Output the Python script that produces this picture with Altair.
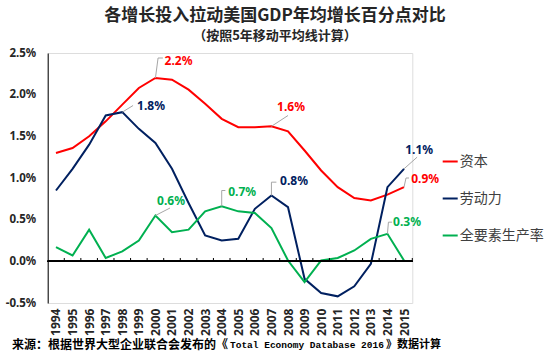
import altair as alt
import pandas as pd

years = list(range(1994, 2016))
series_names = ["资本", "劳动力", "全要素生产率"]
series_colors = ["#ff0000", "#002060", "#00b050"]
capital = [1.30, 1.36, 1.50, 1.68, 1.88, 2.08, 2.20, 2.18, 2.06, 1.89, 1.71,
           1.61, 1.61, 1.62, 1.56, 1.33, 1.09, 0.89, 0.76, 0.73, 0.80, 0.89]
labor = [0.85, 1.11, 1.40, 1.75, 1.79, 1.59, 1.42, 1.11, 0.70, 0.31, 0.25,
         0.27, 0.63, 0.79, 0.65, -0.21, -0.38, -0.42, -0.30, -0.03, 0.89, 1.11]
tfp = [0.17, 0.07, 0.38, 0.04, 0.12, 0.25, 0.55, 0.35, 0.38, 0.60, 0.66,
       0.60, 0.58, 0.40, 0.01, -0.25, 0.01, 0.04, 0.13, 0.27, 0.33, 0.01]
y_ticks = [-0.5, 0.0, 0.5, 1.0, 1.5, 2.0, 2.5]

# annotations: text, series, anchor year, anchor value
ann_text = ["2.2%", "1.8%", "0.6%", "0.7%", "0.8%", "1.6%", "1.1%", "0.9%", "0.3%"]
ann_series = ["资本", "劳动力", "全要素生产率", "全要素生产率", "劳动力", "资本", "劳动力", "资本", "全要素生产率"]
ann_year = [2000, 1998, 2000, 2004, 2007, 2007, 2015, 2015, 2014]
ann_value = [2.20, 1.79, 0.55, 0.66, 0.79, 1.62, 1.11, 0.89, 0.33]
# label placement (left edge of text) and leader path
lab_x = [2000.55, 1998.89, 2000.10, 2004.39, 2007.52, 2007.34, 2015.07, 2015.43, 2014.34]
lab_y = [2.41, 1.87, 0.73, 0.83, 0.97, 1.85, 1.34, 0.99, 0.47]
lead_mid = [(2000.16, 2.44), (1998.65, 1.87), (2000.88, 0.64), (2004.0, 0.85), (2007.0, 0.95),
            (2008.0, 1.75), (2015.79, 1.25), (2015.12, 1.00), (2014.06, 0.47)]
lead_end = [(2000.45, 2.44), (1998.65, 1.87), (2000.88, 0.64), (2004.22, 0.85), (2007.30, 0.95),
            (2008.0, 1.75), (2015.79, 1.25), (2015.30, 1.00), (2014.28, 0.47)]

footer_a = "来源：根据世界大型企业联合会发布的《"
footer_b = " Total Economy Database 2016"
footer_c = "》数据计算"

rows = []
for name, vals in zip(series_names, [capital, labor, tfp]):
    for yr, v in zip(years, vals):
        rows.append({"year": yr, "series": name, "value": v})
df = pd.DataFrame(rows)

ann_df = pd.DataFrame({"text": ann_text, "series": ann_series, "lx": lab_x, "ly": lab_y})
lead_rows = []
for i in range(len(ann_text)):
    pts = [(ann_year[i], ann_value[i]), lead_mid[i], lead_end[i]]
    for k, (px, py) in enumerate(pts):
        lead_rows.append({"id": i, "k": k, "x": px, "y": py})
lead_df = pd.DataFrame(lead_rows)
tick_df = pd.DataFrame({"x": [y + 0.5 for y in years]})

xs = alt.Scale(domain=[1993.5, 2015.5], nice=False, zero=False)
ys = alt.Scale(domain=[-0.5, 2.5], nice=False, zero=False)
cs = alt.Scale(domain=series_names, range=series_colors)

x_axis = alt.Axis(
    values=years, format="d", labelAngle=-90, domain=False, ticks=False, grid=False,
    labelFont="Noto Sans", labelFontWeight="bold", labelFontSize=12, labelColor="#262626",
    labelPadding=5, title=None, labelOverlap=False, labelBaseline="middle", labelAlign="right",
    labelFlush=False, labelBound=False)
y_axis = alt.Axis(
    values=y_ticks, labelExpr="replace(format(datum.value, '.1f'), '−', '-') + '%'",
    grid=False, ticks=False, domainColor="#000000", labelFont="Noto Sans",
    labelFontWeight="bold", labelFontSize=11.5, labelColor="#262626", labelPadding=12,
    title=None, labelOverlap=False)

lines = alt.Chart(df).mark_line(strokeWidth=2).encode(
    x=alt.X("year:Q", scale=xs, axis=x_axis),
    y=alt.Y("value:Q", scale=ys, axis=y_axis),
    color=alt.Color("series:N", scale=cs, sort=series_names, legend=alt.Legend(
        orient="none", legendX=394, legendY=100, title=None, symbolType="stroke",
        symbolStrokeWidth=2, symbolSize=225, labelFont="Noto Sans CJK SC", labelFontSize=14,
        labelColor="#404040", labelOffset=1, rowPadding=21, padding=0)),
)

zero = alt.Chart(tick_df).mark_rule(color="#000000", strokeWidth=1).encode(
    x=alt.X(datum=1993.5, scale=xs, axis=x_axis), x2=alt.datum(2015.5),
    y=alt.Y(datum=0, scale=ys, axis=y_axis))
zticks = alt.Chart(tick_df).mark_rule(color="#000000", strokeWidth=1).encode(
    x=alt.X("x:Q", scale=xs, axis=x_axis), y=alt.Y(datum=0, scale=ys, axis=y_axis),
    y2=alt.datum(0.04))

leaders = alt.Chart(lead_df).mark_line(color="#a6a6a6", strokeWidth=1).encode(
    x=alt.X("x:Q", scale=xs, axis=x_axis), y=alt.Y("y:Q", scale=ys, axis=y_axis),
    detail="id:N", order="k:Q")

labels = alt.Chart(ann_df).mark_text(
    align="left", baseline="middle", font="Noto Sans", fontWeight="bold", fontSize=12).encode(
    x=alt.X("lx:Q", scale=xs, axis=x_axis), y=alt.Y("ly:Q", scale=ys, axis=y_axis), text="text:N",
    color=alt.Color("series:N", scale=cs, legend=None))

fa = alt.Chart(pd.DataFrame({"t": [footer_a]})).mark_text(
    align="left", baseline="middle", font="Noto Sans CJK SC", fontWeight="bold",
    fontSize=12, color="#000000").encode(x=alt.value(12 - 47.7), y=alt.value(292), text="t:N")
fb = alt.Chart(pd.DataFrame({"t": [footer_b]})).mark_text(
    align="left", baseline="middle", font="Liberation Mono", fontWeight="bold",
    fontSize=9.5, color="#000000").encode(x=alt.value(230 - 47.7), y=alt.value(292), text="t:N")
fc = alt.Chart(pd.DataFrame({"t": [footer_c]})).mark_text(
    align="left", baseline="middle", font="Noto Sans CJK SC", fontWeight="bold",
    fontSize=11, color="#000000").encode(x=alt.value(386 - 47.7), y=alt.value(292), text="t:N")

chart = alt.layer(lines, zero, zticks, leaders, labels, fa, fb, fc).properties(
    width=364.6, height=250,
    autosize=alt.AutoSizeParams(type="none"),
    padding={"left": 47.7, "top": 53, "right": 137.7, "bottom": 50},
    title=alt.Title(
        "各增长投入拉动美国GDP年均增长百分点对比",
        subtitle="（按照5年移动平均线计算）",
        font="Noto Sans CJK SC", fontSize=17, fontWeight="bold", color="#262626",
        subtitleFont="Noto Sans CJK SC", subtitleFontSize=13, subtitleFontWeight="bold",
        subtitleColor="#262626", anchor="middle", dx=45, offset=3, subtitlePadding=5),
).configure_view(stroke=None).configure(background="white")

chart.save("out.html", embed_options={"renderer": "svg", "actions": False})
